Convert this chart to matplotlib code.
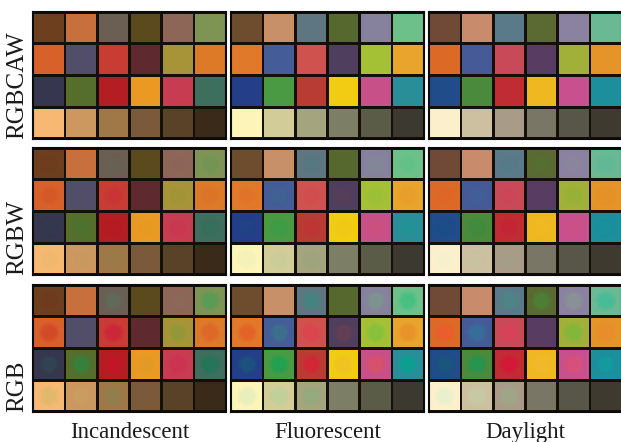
import matplotlib
matplotlib.use("Agg")
import matplotlib.pyplot as plt
from matplotlib.patches import Rectangle, Circle

plt.rcParams['font.family'] = ['Liberation Serif', 'DejaVu Serif']

illuminants = ['Incandescent', 'Fluorescent', 'Daylight']
methods = ['RGBCAW', 'RGBW', 'RGB']

# patch colours under each illuminant (6 x 4 chart, row by row)
incandescent = ['#6e3f1e', '#c8703c', '#6a5f52', '#5a4a1e', '#8e6658', '#7e9454',
                '#d8602a', '#524e6a', '#c83c34', '#5e2a30', '#a89438', '#dc7a28',
                '#36364e', '#566e2c', '#b41e22', '#ea9a22', '#c83c52', '#3e6e5e',
                '#f6b872', '#cc9860', '#a07848', '#7a5a3a', '#5a4228', '#3a2a1a']
fluorescent = ['#6e4c2e', '#c89068', '#5e7682', '#56682e', '#86829e', '#6ec08a',
               '#e07a2a', '#445c98', '#d0524e', '#503e5e', '#a4c034', '#e8a42c',
               '#243e8a', '#4a9a44', '#b83c34', '#f2cc12', '#c85088', '#2a8e98',
               '#fcf4b8', '#d2cc98', '#a4a47e', '#7c7e66', '#5a5c48', '#3c3a30']
daylight = ['#704a36', '#c88c6c', '#5a7a8a', '#5a6a32', '#8a82a0', '#6ab894',
            '#dc6a26', '#465a98', '#c84a58', '#583c62', '#a0b038', '#e49428',
            '#204c8a', '#4a8a3c', '#c02c34', '#f0b820', '#c8508e', '#1c8e9c',
            '#fcf0cc', '#ccc0a0', '#a89c88', '#7a7666', '#585648', '#3e3a30']

# reproduced colours (centre spots) for the RGB-only light
rgb_incandescent = ['#6e3a1e', '#c8703c', '#607060', '#5a4a1e', '#8a6a58', '#4aa058',
                    '#d04028', '#524e6a', '#d01e3c', '#5e2a30', '#8c9a38', '#e0602a',
                    '#304a54', '#2a8a44', '#c8142a', '#e09a2a', '#d03050', '#1a7a5a',
                    '#d8b86a', '#c8a060', '#8a8450', '#7a5a3a', '#5a4228', '#3a2a1a']
rgb_fluorescent = ['#6e4c2e', '#c89068', '#3a8a80', '#56682e', '#7a9a8a', '#38c080',
                   '#e85a28', '#3a7a8a', '#e04050', '#704050', '#7ac040', '#e88a2a',
                   '#1a5a7a', '#10a858', '#e01c34', '#f0c02a', '#e05060', '#00a890',
                   '#e0ecc0', '#b8d498', '#90ae80', '#7c7e66', '#5a5c48', '#3c3a30']
rgb_daylight = ['#704a36', '#c88c6c', '#4a8a84', '#4a8a3a', '#8a9a90', '#38c098',
                '#f05a30', '#307a98', '#e04058', '#583c62', '#7aba40', '#ec8a30',
                '#1a5a78', '#1a9a5a', '#e0103c', '#f0b830', '#e05070', '#10a0a0',
                '#e4f0d0', '#c4d0a8', '#9cac88', '#7a7666', '#585648', '#3e3a30']

charts = [incandescent, fluorescent, daylight]
spots = [rgb_incandescent, rgb_fluorescent, rgb_daylight]
spot_alpha = {'RGBCAW': 0.0, 'RGBW': 0.15, 'RGB': 0.7}

W, H = 621, 442
fig = plt.figure(figsize=(W / 100, H / 100), dpi=100)

col_x = [33, 231, 429]
row_y = [12, 148, 285]
pw, ph = 193, 127

for r, method in enumerate(methods):
    for c, name in enumerate(illuminants):
        ax = fig.add_axes([col_x[c] / W, 1 - (row_y[r] + ph) / H, pw / W, ph / H])
        ax.set_facecolor('#141008')
        ax.set_xlim(0, 6)
        ax.set_ylim(4, 0)
        ax.set_xticks([])
        ax.set_yticks([])
        for s in ax.spines.values():
            s.set_color('#0a0a0a')
            s.set_linewidth(1.5)
        for k in range(24):
            i, j = k // 6, k % 6
            ax.add_patch(Rectangle((j + 0.04, i + 0.05), 0.92, 0.9,
                                   color=charts[c][k], lw=0))
            a = spot_alpha[method]
            if a > 0 and spots[c][k] != charts[c][k]:
                # soft-edged spot: a few stacked discs
                for rad, f in [(0.32, 0.3), (0.27, 0.4), (0.22, 0.6)]:
                    ax.add_patch(Circle((j + 0.5, i + 0.5), rad, color=spots[c][k],
                                        alpha=a * f, lw=0))
    fig.text(17 / W, 1 - (row_y[r] + ph) / H, method, rotation=90,
             ha='center', va='bottom', fontsize=18, color='#1a1a1a')

for c, name in enumerate(illuminants):
    fig.text((col_x[c] + pw / 2) / W, 1 - 438 / H, name, ha='center',
             va='baseline', fontsize=16.5, color='#1a1a1a')

fig.savefig('out.png', dpi=100)
